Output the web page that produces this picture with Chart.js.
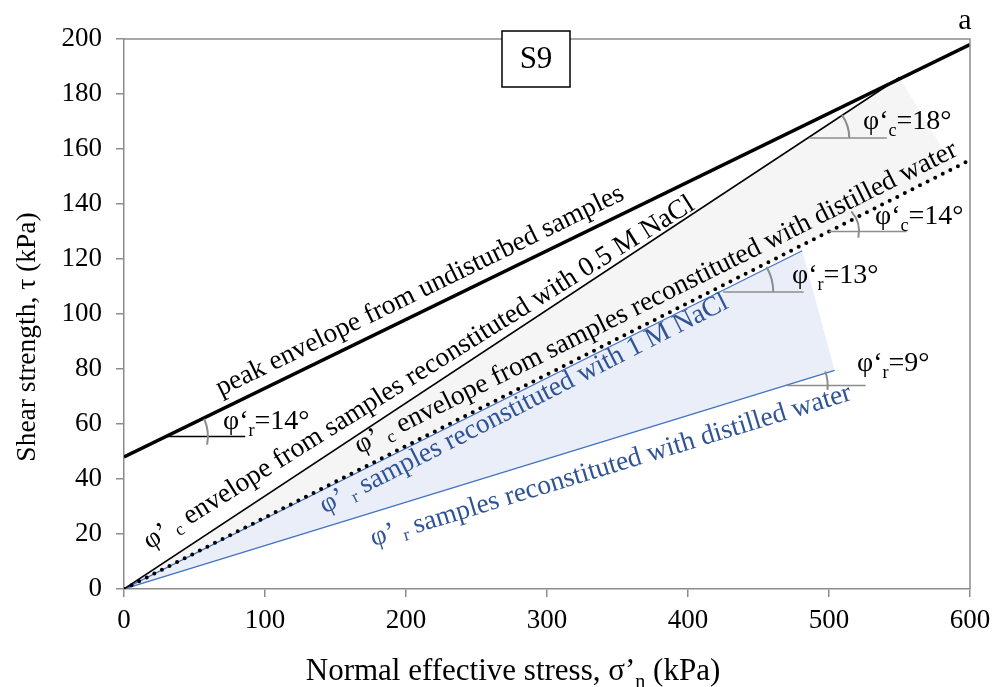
<!DOCTYPE html>
<html>
<head>
<meta charset="utf-8">
<script src="https://cdn.jsdelivr.net/npm/chart.js@4.4.0/dist/chart.umd.min.js"></script>
<style>
  html, body { margin: 0; padding: 0; background: #fff; }
  #wrap { width: 992px; height: 687px; }
</style>
</head>
<body>
<div id="wrap"><canvas id="chart" width="992" height="687"></canvas></div>
<script>
// envelopes (stress kPa -> shear kPa)
const stressPeak = [0, 600];
const shearPeak = [48, 198];
const stressC05 = [0, 550];
const shearC05 = [0, 186];
const stressCWater = [0, 600];
const shearCWater = [0, 156];
const stressR1M = [0, 481];
const shearR1M = [0, 123];
const stressRWater = [0, 504];
const shearRWater = [0, 79.5];

// shaded zones
const greyZoneStress = [0, 550, 589, 0];
const greyZoneShear = [0, 186, 153, 0];
const blueZoneStress = [0, 481, 504, 0];
const blueZoneShear = [0, 123, 79.5, 0];

// short horizontal reference lines for the friction angles
const refFrom = [29, 486, 500, 425, 470];
const refTo = [86, 541, 555, 482, 526];
const refShear = [55.5, 164, 130, 108, 74];
const angleNames = ['r', 'c', 'c', 'r', 'r'];
const angleValues = [14, 18, 14, 13, 9];

const xTicks = [0, 100, 200, 300, 400, 500, 600];
const yTicks = [0, 20, 40, 60, 80, 100, 120, 140, 160, 180, 200];

const FONT = "'Liberation Serif', 'Times New Roman', serif";
const BLUE_LINE = '#4472c4';
const BLUE_TEXT = '#2f5496';

const pts = (xs, ys) => xs.map((x, i) => ({ x, y: ys[i] }));

function richWidth(ctx, parts, size) {
  let w = 0;
  parts.forEach(([t, sub]) => {
    ctx.font = (sub ? size * 0.65 : size) + 'px ' + FONT;
    w += ctx.measureText(t).width;
  });
  return w;
}

function drawRich(ctx, parts, x, y, size) {
  parts.forEach(([t, sub]) => {
    ctx.font = (sub ? size * 0.65 : size) + 'px ' + FONT;
    ctx.fillText(t, x, sub ? y + size * 0.25 : y);
    x += ctx.measureText(t).width;
  });
}

// arcs: radius, start/end angles (deg, canvas direction)
const arcs = [
  { r: 43, a0: -24, a1: 11 },
  { r: 40, a0: -35, a1: 0 },
  { r: 30, a0: -42, a1: 12 },
  { r: 50, a0: -30, a1: 0 },
  { r: 41, a0: -20, a1: 6 }
];
const angleText = [
  { x: 223, y: 429 },
  { x: 863, y: 129 },
  { x: 875, y: 224 },
  { x: 792, y: 283 },
  { x: 857, y: 371 }
];

const lineLabels = [
  { parts: [['peak envelope from undisturbed samples']], cx: 420, cy: 291, deg: -26, color: '#000' },
  { parts: [['φ’ '], ['c', 1], [' envelope from samples reconstituted with 0.5 M NaCl']], cx: 419, cy: 373, deg: -32, color: '#000' },
  { parts: [['φ’ '], ['c', 1], [' envelope from samples reconstituted with distilled water']], cx: 656, cy: 298, deg: -26.5, color: '#000' },
  { parts: [['φ’ '], ['r', 1], [' samples reconstituted with 1 M NaCl']], cx: 524, cy: 404, deg: -27, color: BLUE_TEXT },
  { parts: [['φ’ '], ['r', 1], [' samples reconstituted with distilled water']], cx: 611, cy: 466, deg: -17, color: BLUE_TEXT }
];

const decor = {
  id: 'decor',
  afterDatasetsDraw(chart) {
    const { ctx, chartArea: a, scales: { x, y } } = chart;
    ctx.save();
    // top and right frame
    ctx.strokeStyle = '#8c8c8c';
    ctx.lineWidth = 1.5;
    ctx.beginPath();
    ctx.moveTo(a.left, a.top);
    ctx.lineTo(a.right, a.top);
    ctx.lineTo(a.right, a.bottom);
    ctx.stroke();

    // reference lines + arcs + angle labels
    refFrom.forEach((x0, i) => {
      const px0 = x.getPixelForValue(x0);
      const px1 = x.getPixelForValue(refTo[i]);
      const py = y.getPixelForValue(refShear[i]);
      ctx.strokeStyle = i === 0 ? '#000' : '#8c8c8c';
      ctx.lineWidth = 1.5;
      ctx.beginPath();
      ctx.moveTo(px0, py);
      ctx.lineTo(px1, py);
      ctx.stroke();
      const c = arcs[i];
      ctx.strokeStyle = '#8c8c8c';
      ctx.lineWidth = 2;
      ctx.beginPath();
      ctx.arc(px0, py, c.r, c.a0 * Math.PI / 180, c.a1 * Math.PI / 180);
      ctx.stroke();
      ctx.fillStyle = '#000';
      ctx.textBaseline = 'alphabetic';
      ctx.textAlign = 'left';
      drawRich(ctx, [['φ‘'], [angleNames[i], 1], ['=' + angleValues[i] + '°']], angleText[i].x, angleText[i].y, 28);
    });

    // labels along the envelopes
    lineLabels.forEach(l => {
      ctx.save();
      ctx.translate(l.cx, l.cy);
      ctx.rotate(l.deg * Math.PI / 180);
      ctx.fillStyle = l.color;
      ctx.textBaseline = 'middle';
      ctx.textAlign = 'left';
      const w = richWidth(ctx, l.parts, 27.5);
      drawRich(ctx, l.parts, -w / 2, 0, 27.5);
      ctx.restore();
    });

    // S9 box
    ctx.fillStyle = '#fff';
    ctx.fillRect(502, 31, 68, 56);
    ctx.strokeStyle = '#000';
    ctx.lineWidth = 1.5;
    ctx.strokeRect(502, 31, 68, 56);
    ctx.fillStyle = '#000';
    ctx.font = '31px ' + FONT;
    ctx.textAlign = 'center';
    ctx.textBaseline = 'middle';
    ctx.fillText('S9', 536, 60);
    ctx.font = '30px ' + FONT;
    ctx.fillText('a', 965, 21);

    // axis titles
    ctx.save();
    ctx.translate(28, 337);
    ctx.rotate(-Math.PI / 2);
    ctx.font = '27.5px ' + FONT;
    ctx.fillText('Shear strength, τ (kPa)', 0, 0);
    ctx.restore();
    ctx.textAlign = 'left';
    ctx.textBaseline = 'alphabetic';
    const xt = [['Normal effective stress, σ’'], ['n', 1], [' (kPa)']];
    const xw = richWidth(ctx, xt, 31);
    drawRich(ctx, xt, 513 - xw / 2, 680, 31);
    ctx.restore();
  }
};

new Chart(document.getElementById('chart'), {
  type: 'scatter',
  data: {
    datasets: [
      { data: pts(stressPeak, shearPeak), showLine: true, borderColor: '#000', borderWidth: 3.5, pointRadius: 0, order: 1 },
      { data: pts(stressC05, shearC05), showLine: true, borderColor: '#000', borderWidth: 1.5, pointRadius: 0, order: 1 },
      { data: pts(stressCWater, shearCWater), showLine: true, borderColor: '#000', borderWidth: 4, borderDash: [0, 8.5], borderCapStyle: 'round', pointRadius: 0, order: 1 },
      { data: pts(stressR1M, shearR1M), showLine: true, borderColor: BLUE_LINE, borderWidth: 1.2, pointRadius: 0, order: 1 },
      { data: pts(stressRWater, shearRWater), showLine: true, borderColor: BLUE_LINE, borderWidth: 1.2, pointRadius: 0, order: 1 },
      { data: pts(greyZoneStress, greyZoneShear), showLine: true, fill: 'shape', backgroundColor: '#f5f5f5', borderWidth: 0, pointRadius: 0, order: 3 },
      { data: pts(blueZoneStress, blueZoneShear), showLine: true, fill: 'shape', backgroundColor: '#e9eef8', borderWidth: 0, pointRadius: 0, order: 2 }
    ]
  },
  options: {
    responsive: false,
    animation: false,
    layout: { padding: { left: 0, right: 22, top: 39, bottom: 0 }, autoPadding: false },
    plugins: { legend: { display: false }, tooltip: { enabled: false } },
    scales: {
      x: {
        type: 'linear', min: 0, max: 600,
        afterFit: s => { s.height = 98; s.paddingLeft = 0; s.paddingRight = 0; },
        afterBuildTicks: s => { s.ticks = xTicks.map(v => ({ value: v })); },
        border: { color: '#8c8c8c', width: 1.5 },
        grid: { drawOnChartArea: false, tickLength: 8, color: '#8c8c8c', lineWidth: 1.5 },
        ticks: { color: '#000', font: { family: FONT, size: 27 }, padding: 8, maxRotation: 0 }
      },
      y: {
        type: 'linear', min: 0, max: 200,
        afterFit: s => { s.width = 124; s.paddingTop = 0; s.paddingBottom = 0; },
        afterBuildTicks: s => { s.ticks = yTicks.map(v => ({ value: v })); },
        border: { color: '#8c8c8c', width: 1.5 },
        grid: { drawOnChartArea: false, tickLength: 8, color: '#8c8c8c', lineWidth: 1.5 },
        ticks: { color: '#000', font: { family: FONT, size: 27 }, padding: 14 }
      }
    }
  },
  plugins: [decor]
});
</script>
</body>
</html>
